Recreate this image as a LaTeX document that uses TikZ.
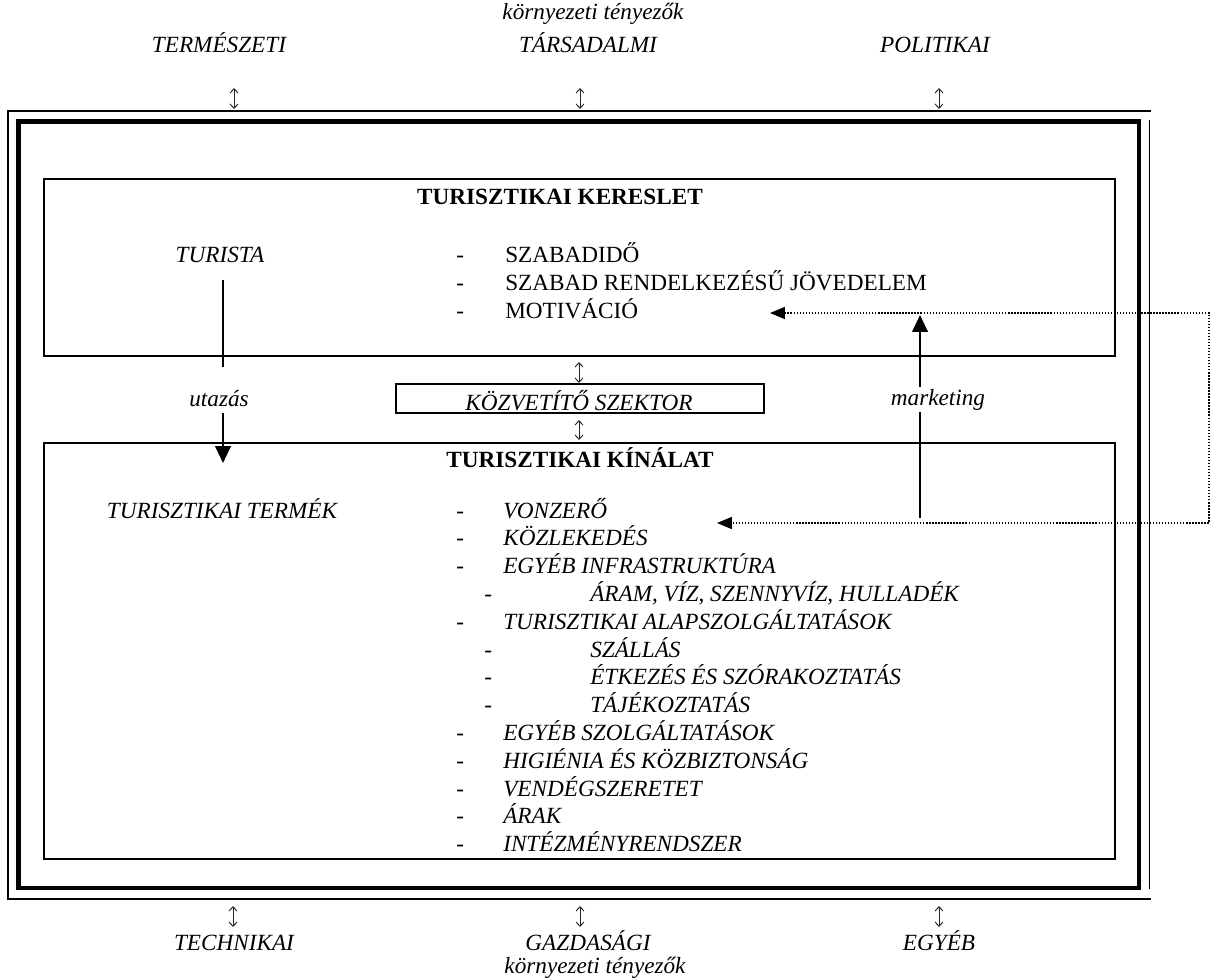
\documentclass[tikz,border=0pt]{standalone}
\usepackage{fontspec}
\setmainfont{Liberation Serif}
\usetikzlibrary{arrows.meta}
\begin{document}
\begin{tikzpicture}[x=0.025cm,y=-0.025cm,
  it/.style={font=\fontsize{16.5}{19}\selectfont\itshape,inner sep=0pt,anchor=base},
  itw/.style={font=\fontsize{16.5}{19}\selectfont\itshape,inner sep=0pt,anchor=base west},
  rmw/.style={font=\fontsize{16.5}{19}\selectfont,inner sep=0pt,anchor=base west},
  ttl/.style={font=\fontsize{16.5}{19}\selectfont\bfseries,inner sep=0pt,anchor=base},
  boxline/.style={line width=0.95pt},
  outerline/.style={line width=1.05pt},
  heavyline/.style={line width=2.9pt},
  updown/.style={line width=0.7pt,black!85,{Straight Barb[length=3pt,width=5.5pt]}-{Straight Barb[length=3pt,width=5.5pt]}},
  dotline/.style={line width=0.95pt,dash pattern=on 0.95pt off 1.2pt},
  bigtip/.style={-{Triangle[length=12pt,width=11pt]}},
  midtip/.style={{Triangle[length=10.5pt,width=8.5pt]}-{Triangle[length=10.5pt,width=8.5pt]}},
  shaft/.style={line width=1.6pt},
]
\useasboundingbox (0,0) rectangle (1217,980);

% ---------- frames ----------
\coordinate (otr) at (1151,111);
\coordinate (otl) at (8,111);
\coordinate (obl) at (8,899);
\coordinate (obr) at (1151,899);
\draw[outerline] (otr) -- (otl) -- (obl) -- (obr);
\coordinate (ort) at (1149.5,120);
\coordinate (orb) at (1149.5,889);
\draw[outerline] (ort) -- (orb);
\coordinate (htl) at (18.5,121.5);
\coordinate (hbr) at (1139,888);
\draw[heavyline] (htl) rectangle (hbr);

% demand box
\coordinate (dtl) at (44,179);
\coordinate (dbr) at (1115,356);
\draw[boxline] (dtl) rectangle (dbr);
% supply box
\coordinate (stl) at (44,443);
\coordinate (sbr) at (1115,859);
\draw[boxline] (stl) rectangle (sbr);
% intermediary box
\coordinate (mtl) at (396,384);
\coordinate (mbr) at (764,413);
\draw[boxline] (mtl) rectangle (mbr);

% ---------- top labels ----------
\node[it] (envtop) at (593,19) {környezeti tényezők};
\node[it] (nat) at (219,52) {TERMÉSZETI};
\node[it] (soc) at (588,52) {TÁRSADALMI};
\node[it] (pol) at (935,52) {POLITIKAI};

\coordinate (a1t) at (234,88);  \coordinate (a1b) at (234,109);
\coordinate (a2t) at (580,88);  \coordinate (a2b) at (580,109);
\coordinate (a3t) at (939,88);  \coordinate (a3b) at (939,109);
\draw[updown] (a1t) -- (a1b);
\draw[updown] (a2t) -- (a2b);
\draw[updown] (a3t) -- (a3b);

% ---------- bottom labels ----------
\coordinate (b1t) at (233,906);  \coordinate (b1b) at (233,927);
\coordinate (b2t) at (580,906);  \coordinate (b2b) at (580,927);
\coordinate (b3t) at (939,906);  \coordinate (b3b) at (939,927);
\draw[updown] (b1t) -- (b1b);
\draw[updown] (b2t) -- (b2b);
\draw[updown] (b3t) -- (b3b);
\node[it] (tech) at (234,950) {TECHNIKAI};
\node[it] (eco) at (588,950) {GAZDASÁGI};
\node[it] (oth) at (939,950) {EGYÉB};
\node[it] (envbot) at (595,973) {környezeti tényezők};

% ---------- demand ----------
\node[ttl] (dtitle) at (560,204) {TURISZTIKAI KERESLET};
\node[it] (tourist) at (220,262) {TURISTA};
\node[rmw] (dd1) at (456,262) {-};
\node[rmw] (d1) at (505,262) {SZABADIDŐ};
\node[rmw] (dd2) at (456,290) {-};
\node[rmw] (d2) at (505,290) {SZABAD RENDELKEZÉSŰ JÖVEDELEM};
\node[rmw] (dd3) at (456,318) {-};
\node[rmw] (d3) at (505,318) {MOTIVÁCIÓ};

% ---------- intermediary ----------
\node[it] (mid) at (579,410) {KÖZVETÍTŐ SZEKTOR};
\coordinate (m1t) at (579,362);  \coordinate (m1b) at (579,383);
\coordinate (m2t) at (579,420);  \coordinate (m2b) at (579,440);
\draw[updown] (m1t) -- (m1b);
\draw[updown] (m2t) -- (m2b);

% ---------- travel arrow ----------
\node[it] (travel) at (219,406) {utazás};
\coordinate (t1) at (223,280);
\coordinate (t2) at (223,367);
\draw[boxline] (t1) -- (t2);
\coordinate (t3) at (223,413);
\coordinate (t4) at (223,463);
\draw[shaft,bigtip] (t3) -- (t4);

% ---------- marketing arrow ----------
\node[it] (mkt) at (938,405) {marketing};
\coordinate (k1) at (920,518);
\coordinate (k2) at (920,412);
\draw[boxline] (k1) -- (k2);
\coordinate (k3) at (920,387);
\coordinate (k4) at (920,315);
\draw[shaft,bigtip] (k3) -- (k4);

% ---------- supply ----------
\node[ttl] (stitle) at (580,467) {TURISZTIKAI KÍNÁLAT};
\node[it] (product) at (222,518) {TURISZTIKAI TERMÉK};

\node[itw] (sd1) at (456,518) {-};   \node[itw] (s1) at (503,518) {VONZERŐ};
\node[itw] (sd2) at (456,545.8) {-}; \node[itw] (s2) at (503,545.8) {KÖZLEKEDÉS};
\node[itw] (sd3) at (456,573.6) {-}; \node[itw] (s3) at (503,573.6) {EGYÉB INFRASTRUKTÚRA};
\node[itw] (sd4) at (484,601.4) {-}; \node[itw] (s4) at (590,601.4) {ÁRAM, VÍZ, SZENNYVÍZ, HULLADÉK};
\node[itw] (sd5) at (456,629.2) {-}; \node[itw] (s5) at (503,629.2) {TURISZTIKAI ALAPSZOLGÁLTATÁSOK};
\node[itw] (sd6) at (484,657) {-};   \node[itw] (s6) at (590,657) {SZÁLLÁS};
\node[itw] (sd7) at (484,684.8) {-}; \node[itw] (s7) at (590,684.8) {ÉTKEZÉS ÉS SZÓRAKOZTATÁS};
\node[itw] (sd8) at (484,712.6) {-}; \node[itw] (s8) at (590,712.6) {TÁJÉKOZTATÁS};
\node[itw] (sd9) at (456,740.4) {-}; \node[itw] (s9) at (503,740.4) {EGYÉB SZOLGÁLTATÁSOK};
\node[itw] (sd10) at (456,768.2) {-}; \node[itw] (s10) at (503,768.2) {HIGIÉNIA ÉS KÖZBIZTONSÁG};
\node[itw] (sd11) at (456,796) {-};  \node[itw] (s11) at (503,796) {VENDÉGSZERETET};
\node[itw] (sd12) at (456,823.8) {-}; \node[itw] (s12) at (503,823.8) {ÁRAK};
\node[itw] (sd13) at (456,851.6) {-}; \node[itw] (s13) at (503,851.6) {INTÉZMÉNYRENDSZER};

% ---------- dotted feedback ----------
\coordinate (p1) at (770,313);
\coordinate (p2) at (1209,313);
\coordinate (p3) at (1209,523);
\coordinate (p4) at (717,523);
\draw[dotline,midtip] (p1) -- (p2) -- (p3) -- (p4);
\end{tikzpicture}
\end{document}
